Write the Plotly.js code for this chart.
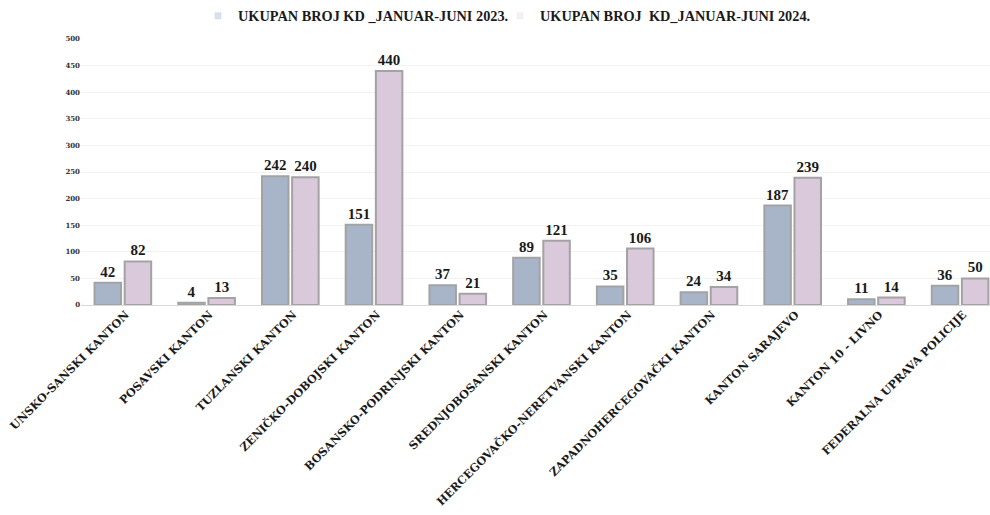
<!DOCTYPE html>
<html>
<head>
<meta charset="utf-8">
<script src="https://cdn.plot.ly/plotly-3.0.1.min.js"></script>
<style>html,body{margin:0;padding:0;background:#fff;}#chart{width:990px;height:515px;}</style>
</head>
<body>
<div id="chart"></div>
<script>
var categories = ["UNSKO-SANSKI KANTON","POSAVSKI KANTON","TUZLANSKI KANTON","ZENIČKO-DOBOJSKI KANTON","BOSANSKO-PODRINJSKI KANTON","SREDNJOBOSANSKI KANTON","HERCEGOVAČKO-NERETVANSKI KANTON","ZAPADNOHERCEGOVAČKI KANTON","KANTON SARAJEVO","KANTON 10 - LIVNO","FEDERALNA UPRAVA POLICIJE"];
var values2023 = [42,4,242,151,37,89,35,24,187,11,36];
var values2024 = [82,13,240,440,21,121,106,34,239,14,50];
var seriesNames = ["UKUPAN BROJ KD _JANUAR-JUNI 2023.","UKUPAN BROJ  KD_JANUAR-JUNI 2024."];
var yTicks = [0,50,100,150,200,250,300,350,400,450,500];

var serif = "DejaVu Serif, serif";
var labelSerif = "Liberation Serif, serif";
var labelFont = {family: labelSerif, size: 15, color: "#1a1a1a", weight: "bold"};
var legendFont = {family: labelSerif, size: 14.3, color: "#1a1a1a", weight: "bold"};

var traces = [
  {type: "bar", x: categories, y: values2023, name: seriesNames[0], showlegend: false,
   marker: {color: "#a8b4c7", line: {color: "#a3a3a3", width: 2}},
   text: values2023.map(String), textposition: "outside", cliponaxis: true,
   textfont: labelFont, hoverinfo: "x+y"},
  {type: "bar", x: categories, y: values2024, name: seriesNames[1], showlegend: false,
   marker: {color: "#d9c9db", line: {color: "#a3a3a3", width: 2}},
   text: values2024.map(String), textposition: "outside", cliponaxis: true,
   textfont: labelFont, hoverinfo: "x+y"},
  // legend-only entries with the small, faint key squares of the original
  {type: "scatter", mode: "markers", x: [null], y: [null], name: seriesNames[0], legend: "legend",
   marker: {symbol: "square", size: 6, color: "#d6e2ee", line: {color: "#c8d2dc", width: 0.5}},
   hoverinfo: "skip"},
  {type: "scatter", mode: "markers", x: [null], y: [null], name: seriesNames[1], legend: "legend2",
   marker: {symbol: "square", size: 6, color: "#f6f0f6", line: {color: "#ece4ec", width: 0.5}},
   hoverinfo: "skip"}
];

var layout = {
  width: 990, height: 515,
  margin: {l: 81, r: 0, t: 39, b: 210, autoexpand: false},
  paper_bgcolor: "#ffffff", plot_bgcolor: "#ffffff",
  barmode: "group", bargap: 0.28, bargroupgap: 0.12,
  showlegend: true,
  legend: {orientation: "h", xref: "container", yref: "container",
           x: 0.2, xanchor: "left", y: 1.0, yanchor: "top",
           bgcolor: "rgba(0,0,0,0)", font: legendFont, itemwidth: 30},
  legend2: {orientation: "h", xref: "container", yref: "container",
           x: 0.505, xanchor: "left", y: 1.0, yanchor: "top",
           bgcolor: "rgba(0,0,0,0)", font: legendFont, itemwidth: 30},
  xaxis: {type: "category", range: [-0.5, 10.357], tickangle: -45, ticklabelshift: 3,
          tickfont: {family: serif, size: 11.2, color: "#1a1a1a", weight: "bold"},
          showgrid: false, zeroline: false, showline: false, ticks: "", automargin: false},
  yaxis: {range: [0, 500], tickvals: yTicks, ticktext: yTicks.map(String),
          tickfont: {family: serif, size: 7, color: "#333333", weight: "bold"},
          showgrid: true, gridcolor: "#f2f2f2", gridwidth: 1,
          zeroline: true, zerolinecolor: "#d9d9d9", zerolinewidth: 1,
          showline: false, ticks: "", automargin: false}
};

Plotly.newPlot("chart", traces, layout, {displayModeBar: false, responsive: false});
</script>
</body>
</html>
